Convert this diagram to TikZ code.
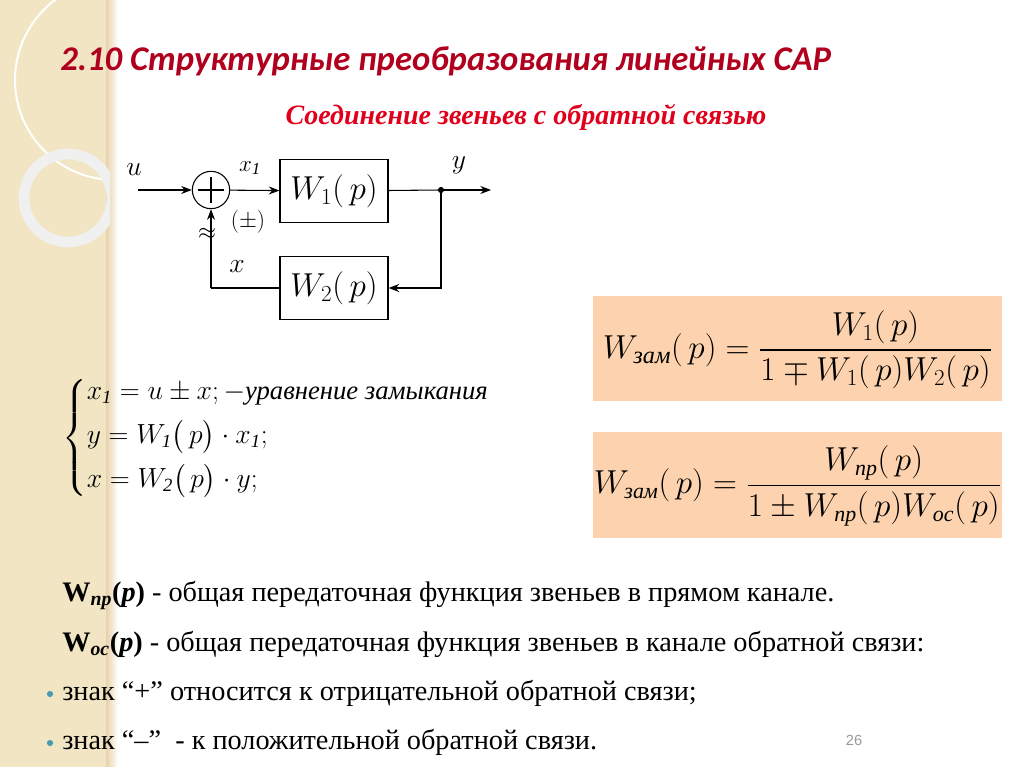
\documentclass[tikz,border=0pt]{standalone}
\usepackage{amsmath}
\usepackage{fontspec}
\setmainfont{Liberation Serif}
\newfontfamily\ttl{Carlito}
\newfontfamily\sns{Liberation Sans}
\usetikzlibrary{arrows.meta}
\definecolor{beige}{HTML}{F1E5C4}
\definecolor{dred}{HTML}{B0001E}
\definecolor{rred}{HTML}{E0001B}
\definecolor{boxc}{HTML}{FCD3AE}
\definecolor{teal}{HTML}{4A9BB0}
\newcommand{\cyr}[1]{\text{\itshape #1}}
\tikzset{blk/.style={draw,line width=0.8pt,minimum width=81pt,minimum height=47pt,inner sep=0pt,font=\fontsize{23}{23}\selectfont},
 ln/.style={line width=0.8pt},
 arr/.style={line width=0.8pt,-{Stealth[length=8pt,width=6pt]}},
 body/.style={anchor=base west,font=\fontsize{21.2}{23}\selectfont,inner sep=0pt},
 fbox/.style={fill=boxc,minimum width=307pt,minimum height=79pt,inner sep=0pt}}
\begin{document}
\begin{tikzpicture}[x=0.75pt,y=-0.75pt]
\useasboundingbox (0,0) rectangle (1024,767);
\fill[white] (0,0) rectangle (1024,767);
\fill[beige] (0,0) rectangle (110,767);
\fill[left color=beige!80!brown, right color=white] (106,0) rectangle (118,767);
\begin{scope}
\clip (0,0) rectangle (110,767);
\draw[white,line width=1.5pt] (115,80) circle (100);
\draw[white!88!gray,line width=8pt] (68,198) circle (44);
\end{scope}
% title
\node[anchor=base west,inner sep=0pt,text=dred,font=\ttl\bfseries\itshape\fontsize{26}{28}\selectfont] (title) at (60,71) {2.10 Структурные преобразования линейных САР};
\node[anchor=base,inner sep=0pt,text=rred,font=\bfseries\itshape\fontsize{21}{23}\selectfont] (sub) at (526,124) {Соединение звеньев с обратной связью};
% diagram
\node[draw,line width=0.8pt,circle,minimum size=28pt,inner sep=0pt] (sum) at (211,190) {};
\draw[ln] ([yshift=-10pt]sum.center) -- ([yshift=10pt]sum.center);
\draw[ln] ([xshift=-10pt]sum.center) -- ([xshift=10pt]sum.center);
\node[blk] (w1) at (334,191) {$W_1(\,p)$};
\node[blk] (w2) at (334,288) {$W_2(\,p)$};
\coordinate (in) at (138,190);
\coordinate (br) at (441,190);
\coordinate (out) at (491,190);
\coordinate (bl) at (211,288);
\draw[arr] (in) -- (sum);
\draw[arr] (sum) -- (w1);
\draw[ln] (w1) -- (br);
\draw[arr] (br) -- (out);
\fill (br) circle (2.3pt);
\draw[arr] (br) |- (w2);
\draw[ln] (w2) -- (bl);
\draw[arr] (bl) -- (sum);
\node[font=\fontsize{20}{20}\selectfont] (lu) at (134,170) {$u$};
\node[font=\fontsize{18}{18}\selectfont] (lx1) at (250,168) {$x_{\mathit 1}$};
\node[font=\fontsize{20}{20}\selectfont] (ly) at (459,165) {$y$};
\node[font=\fontsize{18}{18}\selectfont] (lpm) at (248,222) {$(\pm)$};
\node[font=\bfseries\fontsize{18}{18}\selectfont] (lap) at (207,234) {$\approx$};
\node[font=\fontsize{20}{20}\selectfont] (lx) at (237,267) {$x$};
% system
\node[anchor=west,inner sep=0pt,font=\fontsize{20}{22}\selectfont] (sys) at (62,438) {$\left\{\begin{array}{@{}l@{}}
x_{\mathit 1}=u\pm x;-\cyr{уравнение замыкания}\\[9pt]
y=W_{\mathit 1}\bigl(\,p\bigr)\cdot x_{\mathit 1};\\[9pt]
x=W_{\mathit 2}\bigl(\,p\bigr)\cdot y;
\end{array}\right.$};
% formula boxes
\node[fbox] (f1) at (797.5,348.5) {};
\node[fbox] (f2) at (797.5,485) {};
\node[anchor=center,font=\fontsize{26}{28}\selectfont] (t1) at (797.5,350) {$W_{\cyr{зам}}(\,p)=\dfrac{W_1(\,p)}{1\mp W_1(\,p)W_2(\,p)}$};
\node[anchor=center,font=\fontsize{23.5}{25}\selectfont] (t2) at (797.5,486) {$W_{\cyr{зам}}(\,p)=\dfrac{W_{\cyr{пр}}(\,p)}{1\pm W_{\cyr{пр}}(\,p)W_{\cyr{ос}}(\,p)}$};
% text
\node[body] (l1) at (62,601) {\textbf{W\textsubscript{\itshape пр}(\textit{p})} - общая передаточная функция звеньев в прямом канале.};
\node[body] (l2) at (62,651) {\textbf{W\textsubscript{\itshape ос}(\textit{p})} - общая передаточная функция звеньев в канале обратной связи:};
\node[body] (l3) at (62,700) {знак “+” относится к отрицательной обратной связи;};
\node[body] (l4) at (62,749) {знак “–”\ \ - к положительной обратной связи.};
\fill[teal] (50,694) circle (2.3pt);
\fill[teal] (50,743) circle (2.3pt);
\node[text=gray!80,font=\sns\fontsize{11}{11}\selectfont] (pg) at (854,740) {26};
\end{tikzpicture}
\end{document}
